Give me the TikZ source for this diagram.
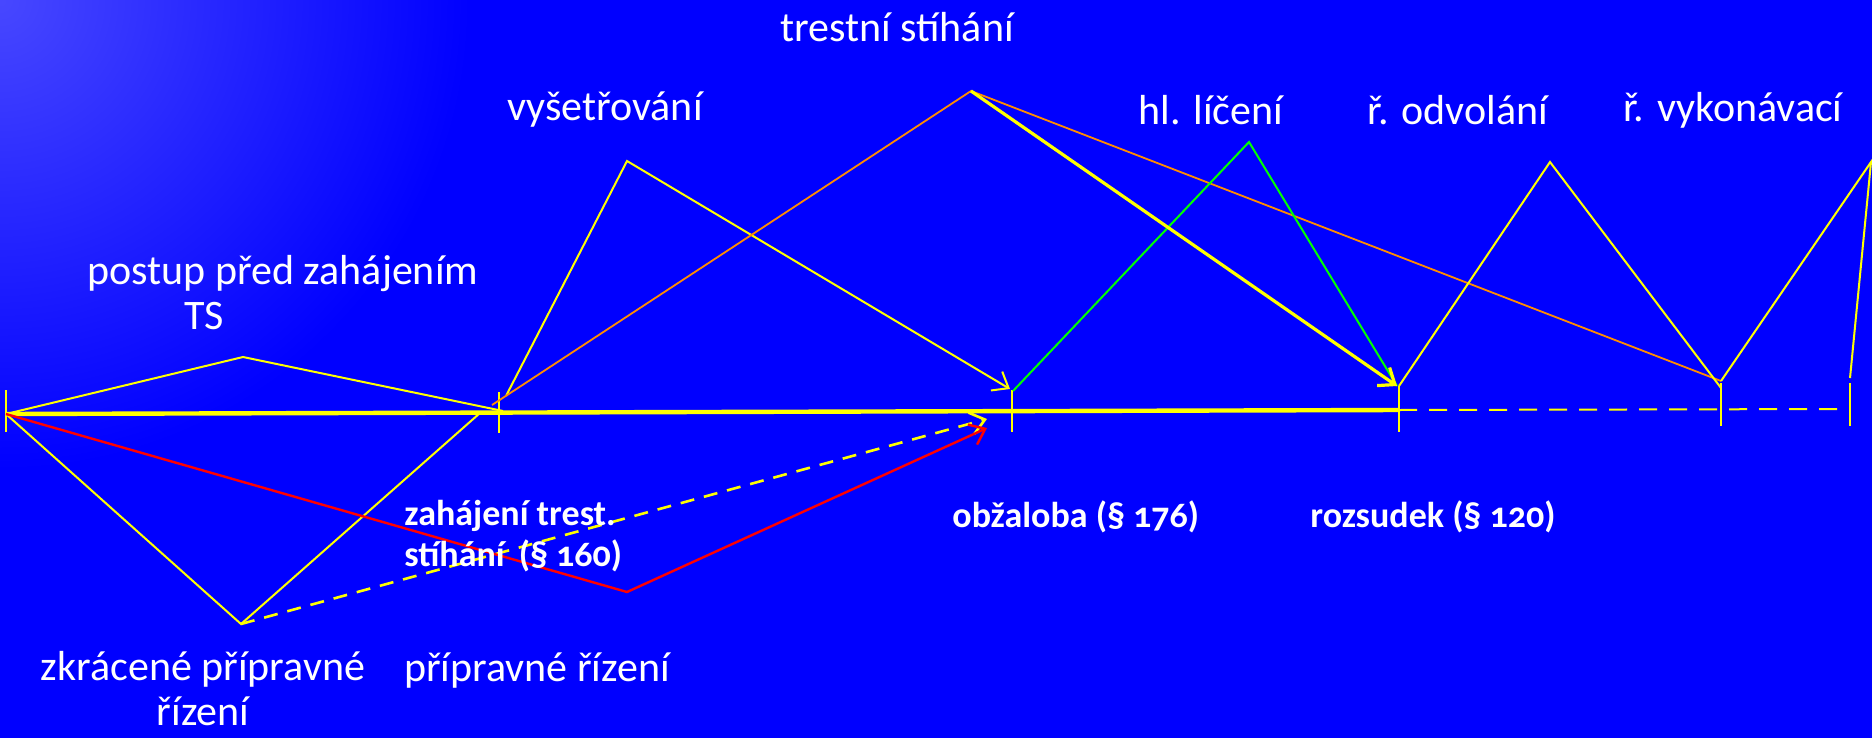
\documentclass[tikz,border=0pt]{standalone}
\usepackage{fontspec}
\setmainfont{Carlito}
\newfontfamily\actfont[Numbers=OldStyle]{Carlito}
\usetikzlibrary{arrows.meta}
\definecolor{slideblue}{RGB}{0,0,255}
\definecolor{lineyellow}{RGB}{255,255,0}
\definecolor{lineorange}{RGB}{255,140,0}
\definecolor{linegreen}{RGB}{0,255,0}
\definecolor{linered}{RGB}{255,0,0}
\tikzset{
    phase/.style = {draw=lineyellow, line width=1pt},
    axis-line/.style = {draw=lineyellow, line width=2.2pt},
    axis-tick/.style = {draw=lineyellow, line width=1pt},
    open-tip/.style = {-{Straight Barb[length=7pt,width=11pt]}},
    phase-label/.style = {text=white, font=\fontsize{21}{22.5}\selectfont, inner sep=0pt},
    act-label/.style = {text=white, font=\actfont\bfseries\fontsize{18}{20.5}\selectfont, inner sep=0pt, align=left, anchor=north west},
}

\begin{document}
\begin{tikzpicture}[x=0.5pt, y=-0.5pt]
\useasboundingbox (0,0) rectangle (1872,738);
% background
\fill[slideblue] (0,0) rectangle (1872,738);
\begin{scope}
\clip (0,0) rectangle (1872,738);
\shade[inner color=slideblue!72!white, outer color=slideblue] (0,0) circle (470);
\end{scope}

% points on the time axis
\coordinate (t0) at (6,414);
\coordinate (t1) at (499,413);
\coordinate (t2) at (1012,412);
\coordinate (t3) at (1399,410);
\coordinate (t4) at (1721,409);
\coordinate (t5) at (1850,409);
% peaks and ends
\coordinate (prep-top) at (243,357);
\coordinate (prep-end) at (503,411);
\coordinate (short-low) at (241,624);
\coordinate (short-end) at (480,413);
\coordinate (red-low) at (627,592);
\coordinate (red-tip) at (987,428);
\coordinate (dash-tip) at (987,419);
\coordinate (inv-start) at (506,396);
\coordinate (inv-top) at (627,161);
\coordinate (inv-tip) at (1010,389);
\coordinate (ts-start) at (492,405);
\coordinate (ts-top) at (971,91);
\coordinate (ts-end) at (1721,381);
\coordinate (ts-tip) at (1397,386);
\coordinate (trial-start) at (1013,391);
\coordinate (trial-top) at (1249,142);
\coordinate (app-start) at (1399,386);
\coordinate (app-top) at (1550,162);
\coordinate (app-end) at (1721,388);
\coordinate (exe-start) at (1721,381);
\coordinate (exe-top) at (1871,162);
\coordinate (exe-end) at (1850,378);

% time axis
\draw[axis-line] (t0) -- (t3);
\draw[phase, dashed, dash pattern=on 9pt off 6pt] (t3) -- (t5);
\foreach \t/\up/\down in {t0/24/18, t1/21/20, t2/22/20, t3/24/22, t4/26/17, t5/26/17}
    \draw[axis-tick] (\t) ++(0,-\up) -- ++(0,\up+\down);

% phases
\draw[phase] (t0) -- (prep-top) -- (prep-end);
\draw[phase] (t0) -- (short-low) -- (short-end);
\draw[phase, dashed, dash pattern=on 7pt off 5pt, line width=1.3pt, open-tip] (short-low) -- (dash-tip);
\draw[draw=linered, line width=1.2pt, open-tip] (t0) -- (red-low) -- (red-tip);
\draw[phase, open-tip] (inv-start) -- (inv-top) -- (inv-tip);
\draw[draw=lineorange, line width=0.9pt] (ts-start) -- (ts-top) -- (ts-end);
\draw[draw=linegreen, line width=1pt] (trial-start) -- (trial-top) -- (ts-tip);
\draw[phase, line width=1.6pt, open-tip] (ts-top) -- (ts-tip);
\draw[phase] (app-start) -- (app-top) -- (app-end);
\draw[phase] (exe-start) -- (exe-top) -- (exe-end);

% labels
\node[phase-label] (ts-label) at (897,27) {trestní stíhání};
\node[phase-label] (inv-label) at (605,110) {vyšetřování};
\node[phase-label] (trial-label) at (1211,110) {hl. líčení};
\node[phase-label] (app-label) at (1458,110) {ř. odvolání};
\node[phase-label] (exe-label) at (1733,110) {ř. vykonávací};
\node[phase-label, align=left, anchor=north west] (prep-label) at (87,255) {postup před zahájením\\\hspace*{2.3em}TS};
\node[phase-label, align=center] (short-label) at (203,689) {zkrácené přípravné\\řízení};
\node[phase-label] (pre-label) at (537,671) {přípravné řízení};
\node[act-label] (start-act) at (404,500) {zahájení trest.\\stíhání \,(§ 160)};
\node[act-label] (ind-act) at (952,500) {obžaloba (§ 176)};
\node[act-label] (ver-act) at (1310,500) {rozsudek (§ 120)};
\end{tikzpicture}
\end{document}
